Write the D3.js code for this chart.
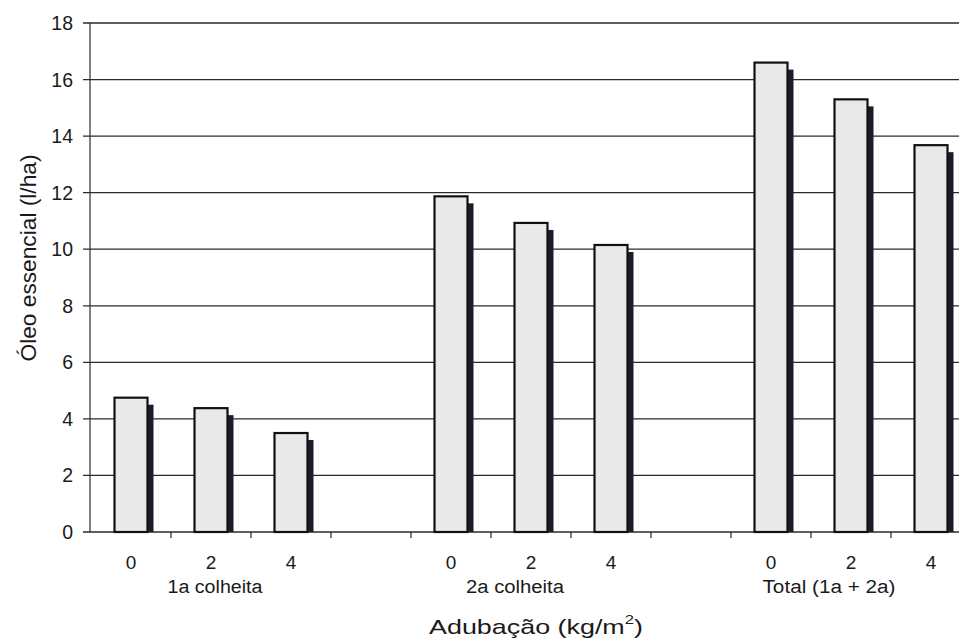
<!DOCTYPE html>
<html>
<head>
<meta charset="utf-8">
<script src="https://cdn.jsdelivr.net/npm/d3@7/dist/d3.min.js"></script>
<style>
  html, body { margin: 0; padding: 0; background: #fff; }
  svg { display: block; }
  text { font-family: "Liberation Sans", Arial, sans-serif; fill: #1a1a1a; }
</style>
</head>
<body>
<svg id="chart" width="959" height="641"></svg>
<script>
// ---- data ----
const groups = ["1a colheita", "2a colheita", "Total (1a + 2a)"];
const doses = ["0", "2", "4"];
const values1a = [4.75, 4.38, 3.5];
const values2a = [11.87, 10.93, 10.15];
const valuesTotal = [16.6, 15.3, 13.68];
const yTicks = [0, 2, 4, 6, 8, 10, 12, 14, 16, 18];
const yTitle = "Óleo essencial (l/ha)";
const xTitle = "Adubação (kg/m";

// ---- layout ----
const svg = d3.select("#chart");
const axisX = 90, baseY = 532, topY = 23;
const groupLabelDx = [4, -16, -22];
const groupLabelLen = [95, 98, 133];

const seriesVals = [values1a, values2a, valuesTotal];
const rows = [];
const slots = [];
groups.forEach((g, gi) => {
  doses.forEach((d, di) => {
    const key = g + "|" + d;
    slots.push(key);
    rows.push({ group: g, gi, dose: d, key, value: seriesVals[gi][di] });
  });
  slots.push(g + "|gap");
});

const x = d3.scaleBand().domain(slots).range([91, 91 + slots.length * 80]).padding(0);
const y = d3.scaleLinear().domain([0, 18]).range([baseY, topY]);

// gridlines
svg.append("g").selectAll("line").data(yTicks).join("line")
  .attr("x1", axisX - 7).attr("x2", 959)
  .attr("y1", d => y(d)).attr("y2", d => y(d))
  .attr("stroke", "#2a2a2a").attr("stroke-width", 1.3);

// y axis line
svg.append("line").attr("x1", axisX).attr("x2", axisX)
  .attr("y1", y(18)).attr("y2", y(0))
  .attr("stroke", "#2a2a2a").attr("stroke-width", 1.2);

// x tick marks at band boundaries
const bounds = slots.slice(1).map(s => x(s));
svg.append("g").selectAll("line").data(bounds).join("line")
  .attr("x1", d => d).attr("x2", d => d)
  .attr("y1", baseY).attr("y2", baseY + 6)
  .attr("stroke", "#2a2a2a").attr("stroke-width", 1.2);

// y tick labels
svg.append("g").selectAll("text").data(yTicks).join("text")
  .attr("x", 73).attr("y", d => y(d)).attr("dy", "0.36em")
  .attr("text-anchor", "end").attr("font-size", 19.5)
  .text(d => d);

const barW = 33, sh = 6, shDown = 7;
// shadows
svg.append("g").selectAll("rect").data(rows).join("rect")
  .attr("x", d => x(d.key) + x.bandwidth() / 2 + barW / 2)
  .attr("y", d => y(d.value) + shDown)
  .attr("width", sh)
  .attr("height", d => y(0) - y(d.value) - shDown)
  .attr("fill", "#1c1c2c");
// bars
svg.append("g").selectAll("rect").data(rows).join("rect")
  .attr("x", d => x(d.key) + x.bandwidth() / 2 - barW / 2)
  .attr("y", d => y(d.value))
  .attr("width", barW)
  .attr("height", d => y(0) - y(d.value))
  .attr("fill", "#e9e9e9")
  .attr("stroke", "#111").attr("stroke-width", 2.2);

// dose labels
svg.append("g").selectAll("text").data(rows).join("text")
  .attr("x", d => x(d.key) + x.bandwidth() / 2)
  .attr("y", 569)
  .attr("text-anchor", "middle").attr("font-size", 19)
  .text(d => d.dose);

// group labels
svg.append("g").selectAll("text").data(groups).join("text")
  .attr("x", (g, i) => x(g + "|" + doses[1]) + x.bandwidth() / 2 + groupLabelDx[i])
  .attr("y", 593)
  .attr("text-anchor", "middle").attr("font-size", 18)
  .attr("textLength", (g, i) => groupLabelLen[i]).attr("lengthAdjust", "spacingAndGlyphs")
  .text(g => g);

// x title
const xt = svg.append("text").attr("x", 536).attr("y", 634)
  .attr("text-anchor", "middle").attr("font-size", 21)
  .attr("textLength", 214).attr("lengthAdjust", "spacingAndGlyphs");
xt.append("tspan").text(xTitle);
xt.append("tspan").attr("font-size", 13).attr("dy", -10).text("2");
xt.append("tspan").attr("dy", 10).text(")");

// y title
svg.append("text")
  .attr("transform", "translate(36,258) rotate(-90)")
  .attr("text-anchor", "middle").attr("font-size", 22)
  .attr("textLength", 207).attr("lengthAdjust", "spacingAndGlyphs")
  .text(yTitle);
</script>
</body>
</html>
